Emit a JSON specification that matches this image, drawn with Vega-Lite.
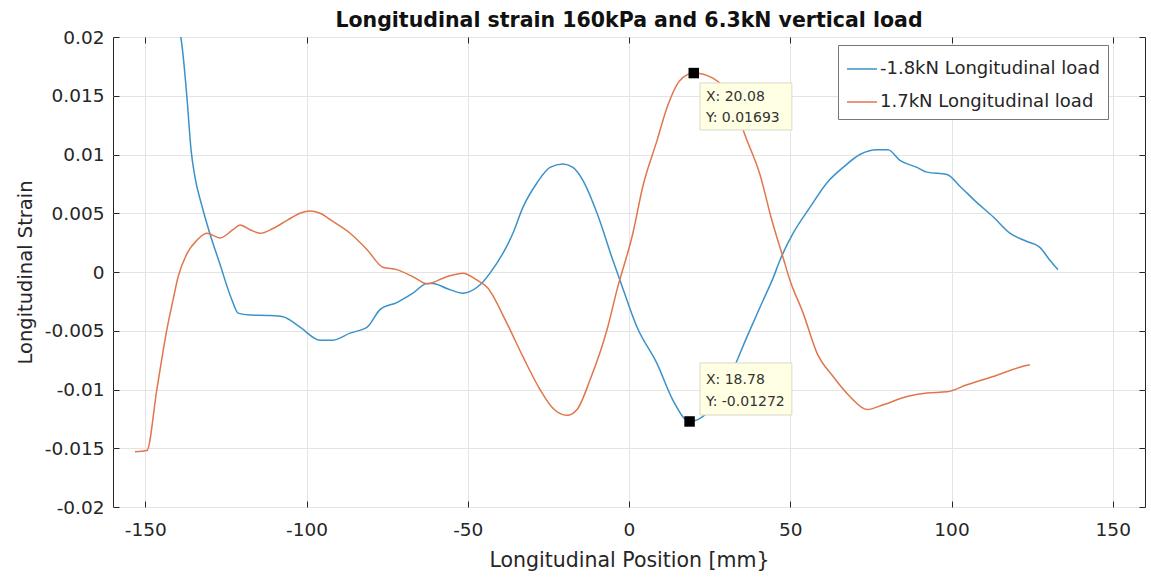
{
  "$schema": "https://vega.github.io/schema/vega-lite/v6.json",
  "width": 1032,
  "height": 470,
  "autosize": {"type": "none"},
  "padding": {"left": 113, "top": 37, "right": 6, "bottom": 72},
  "background": "white",
  "config": {
    "font": "DejaVu Sans",
    "view": {"stroke": "#262626", "strokeWidth": 1},
    "axis": {"labelFont": "DejaVu Sans", "titleFont": "DejaVu Sans", "labelColor": "#262626", "titleColor": "#262626", "titleFontWeight": "normal"}
  },
  "title": {"text": "Longitudinal strain 160kPa and 6.3kN vertical load", "fontSize": 20.5, "fontWeight": "bold", "color": "#111", "offset": -3, "font": "DejaVu Sans"},
  "resolve": {"axis": {"x": "independent", "y": "independent"}},
  "datasets": {
    "curves": [
      {"x": -139.5, "y": 0.0205, "s": "-1.8kN Longitudinal load"},
      {"x": -139, "y": 0.02, "s": "-1.8kN Longitudinal load"},
      {"x": -137, "y": 0.0146, "s": "-1.8kN Longitudinal load"},
      {"x": -135.8, "y": 0.0104, "s": "-1.8kN Longitudinal load"},
      {"x": -134.6, "y": 0.0081, "s": "-1.8kN Longitudinal load"},
      {"x": -132.5, "y": 0.0057, "s": "-1.8kN Longitudinal load"},
      {"x": -130, "y": 0.0033, "s": "-1.8kN Longitudinal load"},
      {"x": -127, "y": 0.0008, "s": "-1.8kN Longitudinal load"},
      {"x": -123.1, "y": -0.0024, "s": "-1.8kN Longitudinal load"},
      {"x": -121.2, "y": -0.0035, "s": "-1.8kN Longitudinal load"},
      {"x": -117.5, "y": -0.00366, "s": "-1.8kN Longitudinal load"},
      {"x": -112, "y": -0.0037, "s": "-1.8kN Longitudinal load"},
      {"x": -107.3, "y": -0.0038, "s": "-1.8kN Longitudinal load"},
      {"x": -102, "y": -0.0047, "s": "-1.8kN Longitudinal load"},
      {"x": -95.8, "y": -0.0058, "s": "-1.8kN Longitudinal load"},
      {"x": -91.8, "y": -0.0058, "s": "-1.8kN Longitudinal load"},
      {"x": -86.5, "y": -0.0052, "s": "-1.8kN Longitudinal load"},
      {"x": -81.2, "y": -0.0047, "s": "-1.8kN Longitudinal load"},
      {"x": -77.2, "y": -0.0032, "s": "-1.8kN Longitudinal load"},
      {"x": -72, "y": -0.0026, "s": "-1.8kN Longitudinal load"},
      {"x": -67, "y": -0.0018, "s": "-1.8kN Longitudinal load"},
      {"x": -62.6, "y": -0.00097, "s": "-1.8kN Longitudinal load"},
      {"x": -60.8, "y": -0.00097, "s": "-1.8kN Longitudinal load"},
      {"x": -56.5, "y": -0.0014, "s": "-1.8kN Longitudinal load"},
      {"x": -51.5, "y": -0.0018, "s": "-1.8kN Longitudinal load"},
      {"x": -47.1, "y": -0.0013, "s": "-1.8kN Longitudinal load"},
      {"x": -45.3, "y": -0.00085, "s": "-1.8kN Longitudinal load"},
      {"x": -43.1, "y": -0.0001, "s": "-1.8kN Longitudinal load"},
      {"x": -36, "y": 0.0033, "s": "-1.8kN Longitudinal load"},
      {"x": -32.9, "y": 0.0055, "s": "-1.8kN Longitudinal load"},
      {"x": -28.5, "y": 0.0076, "s": "-1.8kN Longitudinal load"},
      {"x": -24.5, "y": 0.0089, "s": "-1.8kN Longitudinal load"},
      {"x": -20.5, "y": 0.0092, "s": "-1.8kN Longitudinal load"},
      {"x": -17.4, "y": 0.0089, "s": "-1.8kN Longitudinal load"},
      {"x": -14.3, "y": 0.0078, "s": "-1.8kN Longitudinal load"},
      {"x": -9.9, "y": 0.005, "s": "-1.8kN Longitudinal load"},
      {"x": -5, "y": 0.001, "s": "-1.8kN Longitudinal load"},
      {"x": -2.8, "y": -0.0007, "s": "-1.8kN Longitudinal load"},
      {"x": 2.5, "y": -0.0047, "s": "-1.8kN Longitudinal load"},
      {"x": 8.7, "y": -0.0078, "s": "-1.8kN Longitudinal load"},
      {"x": 13.6, "y": -0.0109, "s": "-1.8kN Longitudinal load"},
      {"x": 18.78, "y": -0.01272, "s": "-1.8kN Longitudinal load"},
      {"x": 24.2, "y": -0.012, "s": "-1.8kN Longitudinal load"},
      {"x": 31.3, "y": -0.0089, "s": "-1.8kN Longitudinal load"},
      {"x": 36.6, "y": -0.0055, "s": "-1.8kN Longitudinal load"},
      {"x": 41.6, "y": -0.0024, "s": "-1.8kN Longitudinal load"},
      {"x": 44.7, "y": -0.0005, "s": "-1.8kN Longitudinal load"},
      {"x": 46.8, "y": 0.001, "s": "-1.8kN Longitudinal load"},
      {"x": 50.9, "y": 0.0033, "s": "-1.8kN Longitudinal load"},
      {"x": 56.1, "y": 0.0055, "s": "-1.8kN Longitudinal load"},
      {"x": 61.4, "y": 0.0076, "s": "-1.8kN Longitudinal load"},
      {"x": 66.4, "y": 0.0089, "s": "-1.8kN Longitudinal load"},
      {"x": 71.6, "y": 0.01, "s": "-1.8kN Longitudinal load"},
      {"x": 76.9, "y": 0.0104, "s": "-1.8kN Longitudinal load"},
      {"x": 80.3, "y": 0.0104, "s": "-1.8kN Longitudinal load"},
      {"x": 84, "y": 0.0095, "s": "-1.8kN Longitudinal load"},
      {"x": 89.3, "y": 0.0089, "s": "-1.8kN Longitudinal load"},
      {"x": 92.4, "y": 0.0085, "s": "-1.8kN Longitudinal load"},
      {"x": 98.6, "y": 0.0083, "s": "-1.8kN Longitudinal load"},
      {"x": 102.6, "y": 0.0073, "s": "-1.8kN Longitudinal load"},
      {"x": 107.9, "y": 0.0059, "s": "-1.8kN Longitudinal load"},
      {"x": 112.9, "y": 0.0047, "s": "-1.8kN Longitudinal load"},
      {"x": 118.1, "y": 0.0033, "s": "-1.8kN Longitudinal load"},
      {"x": 123.4, "y": 0.0026, "s": "-1.8kN Longitudinal load"},
      {"x": 127.4, "y": 0.0021, "s": "-1.8kN Longitudinal load"},
      {"x": 130.5, "y": 0.001, "s": "-1.8kN Longitudinal load"},
      {"x": 133, "y": 0.0002, "s": "-1.8kN Longitudinal load"},
      {"x": -153.2, "y": -0.0153, "s": "1.7kN Longitudinal load"},
      {"x": -149.5, "y": -0.0152, "s": "1.7kN Longitudinal load"},
      {"x": -146.4, "y": -0.01, "s": "1.7kN Longitudinal load"},
      {"x": -143.3, "y": -0.0049, "s": "1.7kN Longitudinal load"},
      {"x": -141.4, "y": -0.0024, "s": "1.7kN Longitudinal load"},
      {"x": -139.8, "y": -0.0004, "s": "1.7kN Longitudinal load"},
      {"x": -137, "y": 0.0016, "s": "1.7kN Longitudinal load"},
      {"x": -134, "y": 0.0027, "s": "1.7kN Longitudinal load"},
      {"x": -130.9, "y": 0.0033, "s": "1.7kN Longitudinal load"},
      {"x": -126.8, "y": 0.0029, "s": "1.7kN Longitudinal load"},
      {"x": -122.8, "y": 0.0036, "s": "1.7kN Longitudinal load"},
      {"x": -120.6, "y": 0.004, "s": "1.7kN Longitudinal load"},
      {"x": -117.5, "y": 0.0036, "s": "1.7kN Longitudinal load"},
      {"x": -114.4, "y": 0.0033, "s": "1.7kN Longitudinal load"},
      {"x": -110.4, "y": 0.0037, "s": "1.7kN Longitudinal load"},
      {"x": -106, "y": 0.0044, "s": "1.7kN Longitudinal load"},
      {"x": -102, "y": 0.005, "s": "1.7kN Longitudinal load"},
      {"x": -98.9, "y": 0.0052, "s": "1.7kN Longitudinal load"},
      {"x": -95.8, "y": 0.005, "s": "1.7kN Longitudinal load"},
      {"x": -91.8, "y": 0.0043, "s": "1.7kN Longitudinal load"},
      {"x": -86.5, "y": 0.0033, "s": "1.7kN Longitudinal load"},
      {"x": -81.2, "y": 0.0019, "s": "1.7kN Longitudinal load"},
      {"x": -76.3, "y": 0.0004, "s": "1.7kN Longitudinal load"},
      {"x": -72, "y": 0.0002, "s": "1.7kN Longitudinal load"},
      {"x": -67, "y": -0.0004, "s": "1.7kN Longitudinal load"},
      {"x": -62.6, "y": -0.001, "s": "1.7kN Longitudinal load"},
      {"x": -56.5, "y": -0.0004, "s": "1.7kN Longitudinal load"},
      {"x": -51.5, "y": -0.0001, "s": "1.7kN Longitudinal load"},
      {"x": -47.1, "y": -0.0007, "s": "1.7kN Longitudinal load"},
      {"x": -44, "y": -0.0013, "s": "1.7kN Longitudinal load"},
      {"x": -37.8, "y": -0.0044, "s": "1.7kN Longitudinal load"},
      {"x": -32.9, "y": -0.0072, "s": "1.7kN Longitudinal load"},
      {"x": -27.6, "y": -0.01, "s": "1.7kN Longitudinal load"},
      {"x": -23.6, "y": -0.0116, "s": "1.7kN Longitudinal load"},
      {"x": -19.2, "y": -0.0122, "s": "1.7kN Longitudinal load"},
      {"x": -16.1, "y": -0.0117, "s": "1.7kN Longitudinal load"},
      {"x": -12.1, "y": -0.0092, "s": "1.7kN Longitudinal load"},
      {"x": -6.8, "y": -0.0049, "s": "1.7kN Longitudinal load"},
      {"x": -3.7, "y": -0.0015, "s": "1.7kN Longitudinal load"},
      {"x": 1.2, "y": 0.0033, "s": "1.7kN Longitudinal load"},
      {"x": 4.3, "y": 0.0073, "s": "1.7kN Longitudinal load"},
      {"x": 8.7, "y": 0.0112, "s": "1.7kN Longitudinal load"},
      {"x": 11.8, "y": 0.014, "s": "1.7kN Longitudinal load"},
      {"x": 15.8, "y": 0.0163, "s": "1.7kN Longitudinal load"},
      {"x": 20.08, "y": 0.01693, "s": "1.7kN Longitudinal load"},
      {"x": 26, "y": 0.0165, "s": "1.7kN Longitudinal load"},
      {"x": 31.3, "y": 0.0149, "s": "1.7kN Longitudinal load"},
      {"x": 36.6, "y": 0.0112, "s": "1.7kN Longitudinal load"},
      {"x": 40.6, "y": 0.0083, "s": "1.7kN Longitudinal load"},
      {"x": 44.3, "y": 0.0044, "s": "1.7kN Longitudinal load"},
      {"x": 47.7, "y": 0.0013, "s": "1.7kN Longitudinal load"},
      {"x": 49.9, "y": -0.0007, "s": "1.7kN Longitudinal load"},
      {"x": 54, "y": -0.0035, "s": "1.7kN Longitudinal load"},
      {"x": 58.3, "y": -0.0069, "s": "1.7kN Longitudinal load"},
      {"x": 63.3, "y": -0.0089, "s": "1.7kN Longitudinal load"},
      {"x": 68.5, "y": -0.0106, "s": "1.7kN Longitudinal load"},
      {"x": 73.8, "y": -0.0117, "s": "1.7kN Longitudinal load"},
      {"x": 78.8, "y": -0.0113, "s": "1.7kN Longitudinal load"},
      {"x": 86.2, "y": -0.0106, "s": "1.7kN Longitudinal load"},
      {"x": 92.4, "y": -0.0103, "s": "1.7kN Longitudinal load"},
      {"x": 98.6, "y": -0.0102, "s": "1.7kN Longitudinal load"},
      {"x": 104.8, "y": -0.0096, "s": "1.7kN Longitudinal load"},
      {"x": 112.9, "y": -0.0089, "s": "1.7kN Longitudinal load"},
      {"x": 121.2, "y": -0.0081, "s": "1.7kN Longitudinal load"},
      {"x": 124.3, "y": -0.0079, "s": "1.7kN Longitudinal load"}
    ],
    "tips": [
      {"x": 20.08, "y": 0.01693, "bx": 22.0, "bx2": 50.5, "by": 0.01609, "by2": 0.01209, "l1": "X: 20.08", "l2": "Y: 0.01693", "ty1": 0.0149, "ty2": 0.0131},
      {"x": 18.78, "y": -0.01272, "bx": 22.0, "bx2": 50.5, "by": -0.00774, "by2": -0.01217, "l1": "X: 18.78", "l2": "Y: -0.01272", "ty1": -0.00919, "ty2": -0.01106}
    ]
  },
  "layer": [
    {
      "data": {"name": "curves"},
      "mark": {"type": "line", "strokeWidth": 1.5, "clip": true, "interpolate": "monotone"},
      "encoding": {
        "x": {"field": "x", "type": "quantitative", "scale": {"domain": [-160, 160], "nice": false, "zero": false},
          "axis": {"title": "Longitudinal Position [mm}", "values": [-150, -100, -50, 0, 50, 100, 150], "labelExpr": "datum.value + ''", "grid": true, "gridColor": "#e4e4e4", "domain": false, "tickSize": -6, "tickColor": "#262626", "labelFontSize": 18.5, "labelPadding": 19, "titleFontSize": 20.5, "titlePadding": 12}},
        "y": {"field": "y", "type": "quantitative", "scale": {"domain": [-0.02, 0.02], "nice": false, "zero": false},
          "axis": {"title": "Longitudinal Strain", "values": [-0.02, -0.015, -0.01, -0.005, 0, 0.005, 0.01, 0.015, 0.02], "labelExpr": "datum.value + ''", "grid": true, "gridColor": "#e4e4e4", "domain": false, "tickSize": -6, "tickColor": "#262626", "labelFontSize": 18.5, "labelPadding": 15, "titleFontSize": 19.5, "titlePadding": 9}},
        "color": {"field": "s", "type": "nominal", "scale": {"domain": ["-1.8kN Longitudinal load", "1.7kN Longitudinal load"], "range": ["#3b92c9", "#e0764b"]},
          "legend": {"title": null, "orient": "none", "legendX": 725, "legendY": 8, "symbolType": "stroke", "symbolSize": 900, "symbolStrokeWidth": 1.5, "labelFontSize": 18, "labelLimit": 0, "labelColor": "#262626", "labelFont": "DejaVu Sans", "strokeColor": "#777", "fillColor": "white", "padding": 8, "rowPadding": 8, "labelOffset": 2}}
      }
    },
    {
      "data": {"name": "tips"},
      "mark": {"type": "point", "opacity": 0},
      "encoding": {
        "x": {"field": "x", "type": "quantitative", "axis": {"orient": "top", "title": null, "labels": false, "grid": false, "domain": false, "values": [-150, -100, -50, 0, 50, 100, 150], "tickSize": -6, "tickColor": "#262626"}},
        "y": {"field": "y", "type": "quantitative", "axis": {"orient": "right", "title": null, "labels": false, "grid": false, "domain": false, "values": [-0.02, -0.015, -0.01, -0.005, 0, 0.005, 0.01, 0.015, 0.02], "tickSize": -6, "tickColor": "#262626"}}
      }
    },
    {
      "data": {"name": "tips"},
      "mark": {"type": "point", "shape": "square", "filled": true, "color": "black", "size": 110, "opacity": 1},
      "encoding": {"x": {"field": "x", "type": "quantitative", "axis": null}, "y": {"field": "y", "type": "quantitative", "axis": null}}
    },
    {
      "data": {"name": "tips"},
      "mark": {"type": "rect", "fill": "#ffffe3", "stroke": "#d9d9c8", "strokeWidth": 1},
      "encoding": {"x": {"field": "bx", "type": "quantitative", "axis": null}, "x2": {"field": "bx2"}, "y": {"field": "by", "type": "quantitative", "axis": null}, "y2": {"field": "by2"}}
    },
    {
      "data": {"name": "tips"},
      "mark": {"type": "text", "align": "left", "baseline": "middle", "fontSize": 14, "color": "#333", "dx": 6, "font": "DejaVu Sans"},
      "encoding": {"x": {"field": "bx", "type": "quantitative", "axis": null}, "y": {"field": "ty1", "type": "quantitative", "axis": null}, "text": {"field": "l1"}}
    },
    {
      "data": {"name": "tips"},
      "mark": {"type": "text", "align": "left", "baseline": "middle", "fontSize": 14, "color": "#333", "dx": 6, "font": "DejaVu Sans"},
      "encoding": {"x": {"field": "bx", "type": "quantitative", "axis": null}, "y": {"field": "ty2", "type": "quantitative", "axis": null}, "text": {"field": "l2"}}
    }
  ]
}
